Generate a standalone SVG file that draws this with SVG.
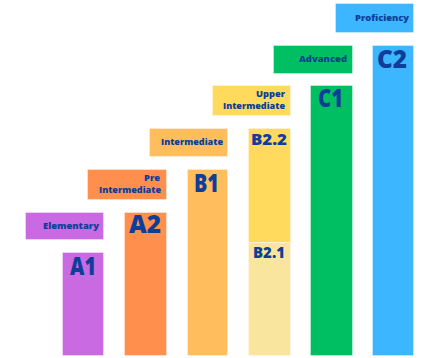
<svg xmlns="http://www.w3.org/2000/svg" width="439" height="358" viewBox="0 0 439 358">
<style>
text{font-family:"Open Sans","Liberation Sans",sans-serif;font-weight:800;fill:#0e3d9a;text-anchor:end}
.s{font-size:9.5px}
.b{font-size:24px}
.m{font-size:15px}
rect{stroke:#ffffff;stroke-opacity:0.35;stroke-width:1}
.pu{fill:#c96ae2}.or{fill:#ff8f4d}.ye{fill:#ffbd5e}.yl{fill:#ffda5c}.lt{fill:#fae59e}.gr{fill:#00bf63}.bl{fill:#3bb6ff}
</style>
<rect width="439" height="358" fill="#ffffff" stroke="none"/>
<g id="elementary"><rect class="pu" x="25.5" y="212.5" width="78" height="27"/><text class="s" x="99" y="229" textLength="56" lengthAdjust="spacingAndGlyphs">Elementary</text></g>
<g id="a1"><rect class="pu" x="62.5" y="252.5" width="41" height="103"/><text class="b" x="96" y="275" textLength="26" lengthAdjust="spacingAndGlyphs">A1</text></g>
<g id="pre-intermediate"><rect class="or" x="87.5" y="169.5" width="79" height="30"/><text class="s" x="160" y="181" textLength="16" lengthAdjust="spacingAndGlyphs">Pre</text><text class="s" x="161" y="193" textLength="62" lengthAdjust="spacingAndGlyphs">Intermediate</text></g>
<g id="a2"><rect class="or" x="124.5" y="212.5" width="42" height="143"/><text class="b" x="161" y="233" textLength="32" lengthAdjust="spacingAndGlyphs">A2</text></g>
<g id="intermediate"><rect class="ye" x="149.5" y="128.5" width="78" height="28"/><text class="s" x="223" y="145" textLength="62" lengthAdjust="spacingAndGlyphs">Intermediate</text></g>
<g id="b1"><rect class="ye" x="187.5" y="169.5" width="40" height="186"/><text class="b" x="219" y="192" textLength="25" lengthAdjust="spacingAndGlyphs">B1</text></g>
<g id="upper-intermediate"><rect class="yl" x="212.5" y="85.5" width="78" height="30"/><text class="s" x="285" y="97" textLength="29" lengthAdjust="spacingAndGlyphs">Upper</text><text class="s" x="285" y="109" textLength="62" lengthAdjust="spacingAndGlyphs">Intermediate</text></g>
<g id="b2"><rect class="yl" x="248.5" y="128.5" width="42" height="114"/><rect class="lt" x="248.5" y="242.5" width="42" height="113"/><text class="m" x="287" y="145" textLength="36" lengthAdjust="spacingAndGlyphs">B2.2</text><text class="m" x="285" y="258" textLength="32" lengthAdjust="spacingAndGlyphs">B2.1</text></g>
<g id="advanced"><rect class="gr" x="273.5" y="45.5" width="79" height="28"/><text class="s" x="347" y="62" textLength="48" lengthAdjust="spacingAndGlyphs">Advanced</text></g>
<g id="c1"><rect class="gr" x="310.5" y="85.5" width="42" height="270"/><text class="b" x="343" y="107" textLength="25" lengthAdjust="spacingAndGlyphs">C1</text></g>
<g id="proficiency"><rect class="bl" x="335.5" y="3.5" width="78" height="29"/><text class="s" x="409" y="21" textLength="54" lengthAdjust="spacingAndGlyphs">Proficiency</text></g>
<g id="c2"><rect class="bl" x="372.5" y="45.5" width="41" height="310"/><text class="b" x="407" y="68" textLength="30" lengthAdjust="spacingAndGlyphs">C2</text></g>
<g id="connectors"/>
</svg>
